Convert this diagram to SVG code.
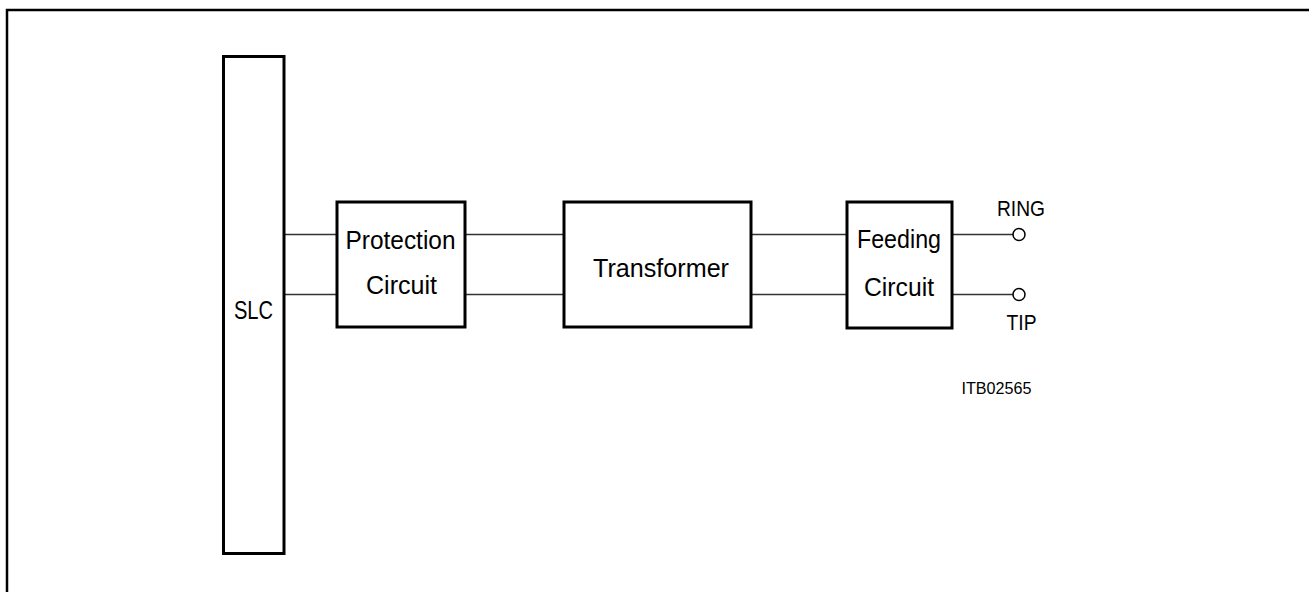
<svg xmlns="http://www.w3.org/2000/svg" width="1309" height="592" viewBox="0 0 1309 592">
<style>
.box{fill:#fff;stroke:#000;stroke-width:3}
.wire{fill:none;stroke:#333;stroke-width:1.5}
.term{fill:#fff;stroke:#000;stroke-width:1.5}
text{font-family:"Liberation Sans",Arial,sans-serif;fill:#000}
.lbl{font-size:26px;text-anchor:middle}
.pin{font-size:22px;text-anchor:middle}
.id{font-size:16px;text-anchor:middle}
</style>
<rect width="1309" height="592" fill="#fff"/>
<path d="M7,600 V10 H1320" fill="none" stroke="#000" stroke-width="2.5"/>
<g id="connectors">
<line class="wire" x1="284" y1="234.5" x2="337" y2="234.5"/>
<line class="wire" x1="284" y1="294.5" x2="337" y2="294.5"/>
<line class="wire" x1="465" y1="234.5" x2="564" y2="234.5"/>
<line class="wire" x1="465" y1="294.5" x2="564" y2="294.5"/>
<line class="wire" x1="751" y1="234.5" x2="847" y2="234.5"/>
<line class="wire" x1="751" y1="294.5" x2="847" y2="294.5"/>
<line class="wire" x1="952" y1="234.5" x2="1013" y2="234.5"/>
<line class="wire" x1="952" y1="294.5" x2="1013" y2="294.5"/>
</g>
<g id="slc">
<rect class="box" x="223.5" y="56.5" width="60.5" height="497"/>
<text class="lbl" x="253.5" y="319" textLength="39" lengthAdjust="spacingAndGlyphs">SLC</text>
</g>
<g id="protection">
<rect class="box" x="337" y="202" width="128" height="125"/>
<text class="lbl" x="400.5" y="249" textLength="110" lengthAdjust="spacingAndGlyphs">Protection</text>
<text class="lbl" x="401.5" y="294" textLength="71" lengthAdjust="spacingAndGlyphs">Circuit</text>
</g>
<g id="transformer">
<rect class="box" x="564" y="202" width="187" height="125"/>
<text class="lbl" x="661" y="277" textLength="136" lengthAdjust="spacingAndGlyphs">Transformer</text>
</g>
<g id="feeding">
<rect class="box" x="847" y="202" width="105" height="126"/>
<text class="lbl" x="899" y="248" textLength="84" lengthAdjust="spacingAndGlyphs">Feeding</text>
<text class="lbl" x="899" y="296" textLength="70" lengthAdjust="spacingAndGlyphs">Circuit</text>
</g>
<g id="ring">
<circle class="term" cx="1019" cy="234.5" r="6"/>
<text class="pin" x="1021" y="216" textLength="48" lengthAdjust="spacingAndGlyphs">RING</text>
</g>
<g id="tip">
<circle class="term" cx="1019" cy="294.5" r="6"/>
<text class="pin" x="1021.5" y="330" textLength="30" lengthAdjust="spacingAndGlyphs">TIP</text>
</g>
<text class="id" x="996.5" y="394" textLength="70" lengthAdjust="spacingAndGlyphs">ITB02565</text>
</svg>
